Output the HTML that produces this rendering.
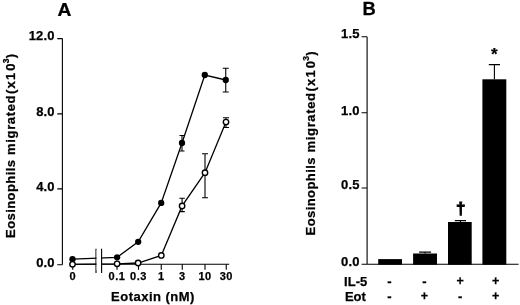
<!DOCTYPE html>
<html><head><meta charset="utf-8"><title>Figure</title>
<style>html,body{margin:0;padding:0;background:#fff}svg{display:block}text{font-family:"Liberation Sans",Arial,sans-serif;font-weight:bold;fill:#000;stroke:#000;stroke-width:0.25px}</style></head><body>
<svg width="520" height="305" viewBox="0 0 520 305">
<rect width="520" height="305" fill="#fff"/>
<text transform="translate(64.5,15.8) scale(1.1,1)" font-size="17.5" text-anchor="middle">A</text>
<path d="M62.4 38.6V264.8M57.3 38.6H62.4M57.3 113.85H62.4M57.3 188.9H62.4M57.3 264.8H62.4" stroke="#000" stroke-width="1.1" fill="none"/>
<text x="54.8" y="40.1" font-size="13" letter-spacing="0.2" text-anchor="end">12.0</text>
<text x="54.8" y="116.1" font-size="13" letter-spacing="0.2" text-anchor="end">8.0</text>
<text x="54.8" y="190.6" font-size="13" letter-spacing="0.2" text-anchor="end">4.0</text>
<text x="54.8" y="266.7" font-size="13" letter-spacing="0.2" text-anchor="end">0.0</text>
<path d="M70 264.2H229.2" stroke="#000" stroke-width="1.1" fill="none"/>
<path d="M96 248.8V273M101.6 248.8V273" stroke="#000" stroke-width="1.1" fill="none"/>
<path d="M72.75 264.2V269.7M117 264.2V269.7M138.5 264.2V269.7M161.25 264.2V269.7M182.25 264.2V269.7M205 264.2V269.7M226.25 264.2V269.7" stroke="#000" stroke-width="1.1" fill="none"/>
<text x="72.75" y="280.2" font-size="11" letter-spacing="0.5" text-anchor="middle">0</text>
<text x="117" y="280.2" font-size="11" letter-spacing="0.5" text-anchor="middle">0.1</text>
<text x="138.5" y="280.2" font-size="11" letter-spacing="0.5" text-anchor="middle">0.3</text>
<text x="161.25" y="280.2" font-size="11" letter-spacing="0.5" text-anchor="middle">1</text>
<text x="182.25" y="280.2" font-size="11" letter-spacing="0.5" text-anchor="middle">3</text>
<text x="205" y="280.2" font-size="11" letter-spacing="0.5" text-anchor="middle">10</text>
<text x="226.25" y="280.2" font-size="11" letter-spacing="0.5" text-anchor="middle">30</text>
<text x="111.1" y="301.1" font-size="13" letter-spacing="0.5" word-spacing="-0.2">Eotaxin (nM)</text>
<text transform="translate(15.0,237.9) rotate(-90)" font-size="13" letter-spacing="0.42">Eosinophils</text>
<text transform="translate(15.0,154.9) rotate(-90)" font-size="13" letter-spacing="0.64">migrated</text>
<text transform="translate(15.0,94.0) rotate(-90)" font-size="13" letter-spacing="0.57">(<tspan dx="0.5">x</tspan><tspan dx="0.8">1</tspan><tspan dx="1.4">0</tspan><tspan dx="-0.2" dy="-6.5" font-size="8.5">3</tspan><tspan dx="-0.4" dy="6.5">)</tspan></text>
<path d="M225.75 68.25V92M222.75 68.25H228.75M222.75 92H228.75M182 135.5V151M179.5 135.5H184.5M179.5 151H184.5M226 117.8V127.5M223 117.8H229M223 127.5H229M205 153.8V197.8M202 153.8H208M202 197.8H208M182.1 198.3V211.6M179.4 198.3H184.8M179.4 211.6H184.8" stroke="#000" stroke-width="1.1" fill="none"/>
<polyline points="72.5,259.2 117.1,257.3 138.2,241.8 161.2,202.9 182,143 204.8,75.0 225.75,80" stroke="#000" stroke-width="1.3" fill="none"/>
<polyline points="72.5,264.3 117.1,263.8 138.1,263.0 161.3,255.4 182.1,205.9 205,172.7 226,122.1" stroke="#000" stroke-width="1.3" fill="none"/>
<rect x="96.6" y="250" width="4.4" height="20" fill="#fff"/>
<circle cx="72.5" cy="259.2" r="3.15" fill="#000"/>
<circle cx="117.1" cy="257.3" r="3.15" fill="#000"/>
<circle cx="138.2" cy="241.8" r="3.15" fill="#000"/>
<circle cx="161.2" cy="202.9" r="3.15" fill="#000"/>
<circle cx="182" cy="143" r="3.15" fill="#000"/>
<circle cx="204.8" cy="75.0" r="3.15" fill="#000"/>
<circle cx="225.75" cy="80" r="3.15" fill="#000"/>
<circle cx="72.5" cy="264.3" r="2.7" fill="#fff" stroke="#000" stroke-width="1.4"/>
<circle cx="117.1" cy="263.8" r="2.7" fill="#fff" stroke="#000" stroke-width="1.4"/>
<circle cx="138.1" cy="263.0" r="2.7" fill="#fff" stroke="#000" stroke-width="1.4"/>
<circle cx="161.3" cy="255.4" r="2.7" fill="#fff" stroke="#000" stroke-width="1.4"/>
<circle cx="182.1" cy="205.9" r="2.7" fill="#fff" stroke="#000" stroke-width="1.4"/>
<circle cx="205" cy="172.7" r="2.7" fill="#fff" stroke="#000" stroke-width="1.4"/>
<circle cx="226" cy="122.1" r="2.7" fill="#fff" stroke="#000" stroke-width="1.4"/>
<text transform="translate(369.2,15) scale(1.05,1)" font-size="17.5" text-anchor="middle">B</text>
<path d="M367.1 36.7V264.2M361.6 36.7H367.1M361.6 112.8H367.1M361.6 188.0H367.1M361.6 264.2H518.6" stroke="#000" stroke-width="1.1" fill="none"/>
<text x="359.7" y="38.3" font-size="13" letter-spacing="0.2" text-anchor="end">1.5</text>
<text x="359.7" y="114.7" font-size="13" letter-spacing="0.2" text-anchor="end">1.0</text>
<text x="359.7" y="189.45" font-size="13" letter-spacing="0.2" text-anchor="end">0.5</text>
<text x="359.7" y="265.8" font-size="13" letter-spacing="0.2" text-anchor="end">0.0</text>
<rect x="378.2" y="259.1" width="23.8" height="5.60" fill="#000"/>
<rect x="413.1" y="253.5" width="23.9" height="11.20" fill="#000"/>
<rect x="448" y="222" width="23.7" height="42.70" fill="#000"/>
<rect x="482.4" y="79.3" width="23.9" height="185.40" fill="#000"/>
<path d="M425.1 253.6V252.1M419.1 252.1H431.1M460.4 222V220.6M454.8 220.6H466.0M494.4 79.3V64.6M488.8 64.6H500.0" stroke="#000" stroke-width="1.1" fill="none"/>
<text x="494.4" y="60.3" font-size="17" text-anchor="middle">*</text>
<text x="460.7" y="214.1" font-size="17" text-anchor="middle" style="stroke-width:0.9px">†</text>
<text x="344.1" y="285.9" font-size="13">IL-5</text>
<text x="344.9" y="300.9" font-size="13">Eot</text>
<text x="389.5" y="285.8" font-size="13" text-anchor="middle">-</text>
<text x="424.5" y="285.8" font-size="13" text-anchor="middle">-</text>
<text x="460.2" y="284.9" font-size="12.5" text-anchor="middle">+</text>
<text x="495.7" y="284.9" font-size="12.5" text-anchor="middle">+</text>
<text x="389.5" y="300.6" font-size="13" text-anchor="middle">-</text>
<text x="424.5" y="300.35" font-size="12.5" text-anchor="middle">+</text>
<text x="460.2" y="300.6" font-size="13" text-anchor="middle">-</text>
<text x="495.7" y="300.35" font-size="12.5" text-anchor="middle">+</text>
<text transform="translate(315.0,235.4) rotate(-90)" font-size="13" letter-spacing="0.42">Eosinophils</text>
<text transform="translate(315.0,152.4) rotate(-90)" font-size="13" letter-spacing="0.64">migrated</text>
<text transform="translate(315.0,91.5) rotate(-90)" font-size="13" letter-spacing="0.57">(<tspan dx="0.5">x</tspan><tspan dx="0.8">1</tspan><tspan dx="1.4">0</tspan><tspan dx="-0.2" dy="-6.5" font-size="8.5">3</tspan><tspan dx="-0.4" dy="6.5">)</tspan></text>
</svg></body></html>
